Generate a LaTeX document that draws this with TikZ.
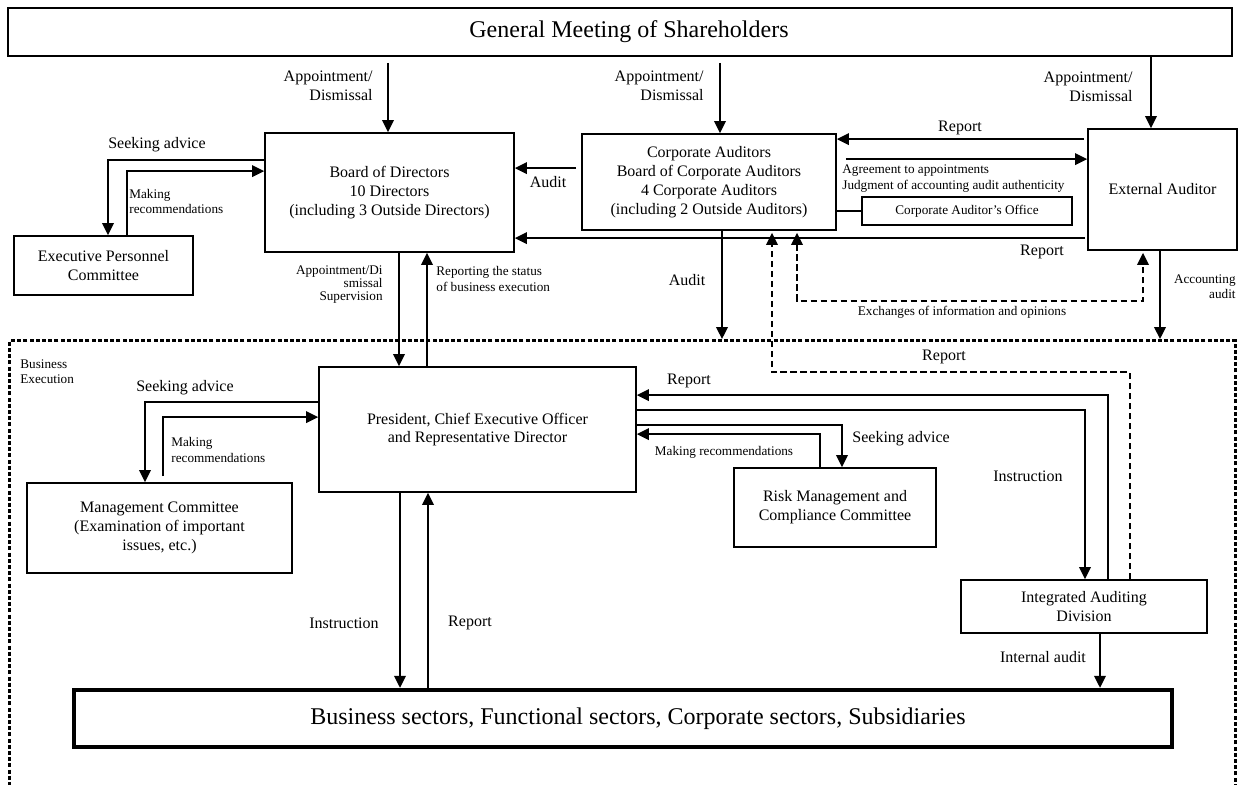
\documentclass[tikz,border=0pt]{standalone}
\usepackage{fontspec}
\setmainfont{Liberation Serif}
\usetikzlibrary{arrows.meta, calc, positioning}

\newcommand{\boxfont}{\fontsize{8}{9.4}\selectfont}
\newcommand{\smallfont}{\fontsize{6.6}{7.6}\selectfont}

\begin{document}
\begin{tikzpicture}[
    x=0.5pt, y=-0.5pt,
    >={Triangle[length=6pt, width=5.8pt]},
    box/.style={rectangle, draw=black, line width=0.9pt, align=center, font=\boxfont, inner sep=2pt},
    arrow/.style={->, line width=0.9pt},
    dasharrow/.style={arrow, dash pattern=on 3.3pt off 1.7pt},
    dblarrow/.style={<->, line width=0.9pt, dash pattern=on 3.3pt off 1.7pt},
    link/.style={line width=0.9pt},
    lbl/.style={font=\boxfont, inner sep=0pt},
    sml/.style={font=\smallfont, inner sep=0pt}
]
\useasboundingbox (0,0) rectangle (1248,784);
\clip (0,0) rectangle (1248,784);
\fill[white] (0,0) rectangle (1248,784);

% boxes
\node[box, minimum width=612pt, minimum height=24pt,
      label={[font=\fontsize{12}{14}\selectfont, xshift=4.5pt]center:General Meeting of Shareholders}] (gms) at (620,32) {};
\node[box, minimum width=124.5pt, minimum height=59.5pt] (board) at (389.5,192.5) {Board of Directors\\10 Directors\\(including 3 Outside Directors)};
\node[box, minimum width=89.5pt, minimum height=29.5pt] (epc) at (103.5,265.5) {Executive Personnel\\Committee};
\node[box, minimum width=127pt, minimum height=48pt] (corpaud) at (709,182) {Corporate Auditors\\Board of Corporate Auditors\\4 Corporate Auditors\\(including 2 Outside Auditors)};
\node[box, minimum width=105pt, minimum height=14pt, font=\smallfont] (office) at (967,211) {Corporate Auditor’s Office};
\node[box, minimum width=74.5pt, minimum height=60.5pt] (extaud) at (1162.5,189.5) {External Auditor};

\node[draw, line width=1.7pt, dash pattern=on 2pt off 1.1pt, minimum width=613pt, minimum height=230.5pt, anchor=north west] (exec) at (8,339) {};

\node[box, minimum width=158.5pt, minimum height=62.5pt] (pres) at (477.5,429.5) {President, Chief Executive Officer\\and Representative Director};
\node[box, minimum width=132.5pt, minimum height=45pt] (mgmt) at (159.5,528) {Management Committee\\(Examination of important\\issues, etc.)};
\node[box, minimum width=101pt, minimum height=39.5pt] (risk) at (835,507.5) {Risk Management and\\Compliance Committee};
\node[box, minimum width=123pt, minimum height=26.5pt] (iad) at (1084,606.5) {Integrated Auditing\\Division};
\node[box, line width=2.2pt, minimum width=549pt, minimum height=28.5pt,
      label={[font=\fontsize{12}{14}\selectfont, xshift=7.5pt]center:Business sectors, Functional sectors, Corporate sectors, Subsidiaries}] (sectors) at (623,718.5) {};

% shareholders
\draw[arrow] ($(gms.south)+(-232,6)$) -- ($(board.north)+(-1.5,0)$);
\draw[arrow] ($(gms.south)+(100,6)$) -- ($(corpaud.north)+(11,0)$);
\draw[arrow] ($(gms.south)+(531,0)$) -- ($(extaud.north)+(-11.5,0)$);
\node[lbl, align=right, anchor=east] (ad1) at (373,86) {Appointment/\\Dismissal};
\node[lbl, align=right, anchor=east] (ad2) at (704,86) {Appointment/\\Dismissal};
\node[lbl, align=right, anchor=east] (ad3) at (1133,87) {Appointment/\\Dismissal};

% board and personnel committee
\draw[arrow] ($(board.north west)+(0,28)$) -| ($(epc.north)+(4.5,0)$);
\draw[arrow] ($(epc.north)+(23.5,0)$) |- ($(board.north west)+(0,39)$);
\node[lbl] (seek1) at (157,145) {Seeking advice};
\node[sml, align=left, anchor=west] (mak1) at (129,201.5) {Making\\recommendations};

% auditors
\draw[arrow] ($(corpaud.north west)+(-5,35)$) -- ($(board.north east)+(0,36)$);
\node[lbl] (audit1) at (548,182) {Audit};
\draw[arrow] ($(extaud.north west)+(-3,11)$) -- ($(corpaud.north east)+(0,6)$);
\node[lbl] (rep1) at (960,128) {Report};
\draw[arrow] ($(corpaud.north east)+(9,26)$) -- ($(extaud.north west)+(0,31)$);
\node[sml, align=left, anchor=west] (agree) at (842,178.5) {Agreement to appointments\\Judgment of accounting audit authenticity};
\draw[link] (corpaud.east |- office.west) -- (office.west);
\draw[arrow] ($(extaud.north west)+(-2,110)$) -- ($(board.north east)+(0,106)$);
\node[lbl] (rep2) at (1042,252) {Report};

\draw[arrow] ($(corpaud.south)+(13,0)$) -- ($(exec.north west)+(714,0)$);
\node[lbl] (audit2) at (687,280) {Audit};
\draw[dasharrow] ($(iad.north)+(46,0)$) -- ++(0,-207) -| ($(corpaud.south)+(63,2)$);
\node[lbl] (rep3) at (944,357) {Report};
\draw[dblarrow] ($(corpaud.south)+(88,2)$) -- ++(0,68) -| ($(extaud.south)+(-19.5,2)$);
\node[sml] (exch) at (962,312) {Exchanges of information and opinions};
\draw[arrow] ($(extaud.south)+(-2.5,0)$) -- ($(exec.north west)+(1152,0)$);
\node[sml, align=right, anchor=east] (acct) at (1236,287) {Accounting\\audit};

% board and president
\draw[arrow] ($(board.south)+(9.5,0)$) -- ($(pres.north)+(-78.5,0)$);
\draw[arrow] ($(pres.north)+(-50.5,0)$) -- ($(board.south)+(37.5,0)$);
\node[sml, align=right, anchor=east, font=\fontsize{6.6}{6.3}\selectfont] (appsup) at (383,284.5) {Appointment/Di\\smissal\\Supervision};
\node[sml, align=left, anchor=west] (repstat) at (436,279) {Reporting the status\\of business execution};
\node[sml, align=left, anchor=west] (busexec) at (20,371.5) {Business\\Execution};

% president and committees
\draw[arrow] ($(pres.north west)+(0,36)$) -| ($(mgmt.north)+(-14.5,0)$);
\draw[arrow] ($(mgmt.north)+(3.5,-6)$) |- ($(pres.north west)+(0,51)$);
\node[lbl] (seek2) at (185,388) {Seeking advice};
\node[sml, align=left, anchor=west] (mak2) at (171,450) {Making\\recommendations};

\draw[arrow] ($(iad.north)+(24,0)$) |- ($(pres.north east)+(0,29)$);
\draw[arrow] ($(pres.north east)+(0,44)$) -| ($(iad.north)+(1,0)$);
\draw[arrow] ($(pres.north east)+(0,59)$) -| ($(risk.north)+(7,0)$);
\draw[arrow] ($(risk.north)+(-15,0)$) |- ($(pres.north east)+(0,68)$);
\node[lbl] (rep4) at (689,381) {Report};
\node[lbl] (instr1) at (1028,476) {Instruction};
\node[lbl, anchor=west] (seek3) at (852,439) {Seeking advice};
\node[sml] (mak3) at (724,452) {Making recommendations};

% sectors
\draw[arrow] ($(pres.south)+(-77.5,0)$) -- ($(sectors.north)+(-223,0)$);
\draw[arrow] ($(sectors.north)+(-195,0)$) -- ($(pres.south)+(-49.5,0)$);
\node[lbl] (instr2) at (344,623) {Instruction};
\node[lbl] (rep5) at (470,623) {Report};
\draw[arrow] ($(iad.south)+(16,0)$) -- ($(sectors.north)+(477,0)$);
\node[lbl] (intaud) at (1043,657) {Internal audit};

\end{tikzpicture}
\end{document}
